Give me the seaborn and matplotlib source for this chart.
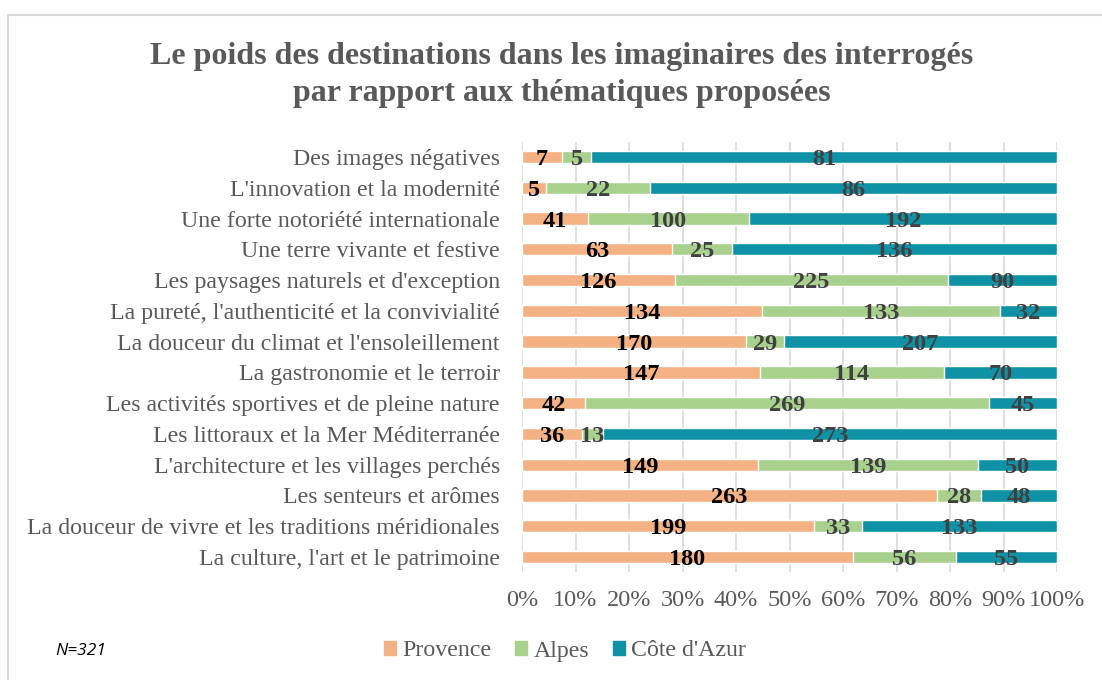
import matplotlib
matplotlib.use("Agg")
import matplotlib.pyplot as plt
import matplotlib.patches as mpatches
import seaborn as sns
import numpy as np
import pandas as pd

categories = [
    "Des images négatives",
    "L'innovation et la modernité",
    "Une forte notoriété internationale",
    "Une terre vivante et festive",
    "Les paysages naturels et d'exception",
    "La pureté, l'authenticité et la convivialité",
    "La douceur du climat et l'ensoleillement",
    "La gastronomie et le terroir",
    "Les activités sportives et de pleine nature",
    "Les littoraux et la Mer Méditerranée",
    "L'architecture et les villages perchés",
    "Les senteurs et arômes",
    "La douceur de vivre et les traditions méridionales",
    "La culture, l'art et le patrimoine",
]
provence = [7, 5, 41, 63, 126, 134, 170, 147, 42, 36, 149, 263, 199, 180]
alpes = [5, 22, 100, 25, 225, 133, 29, 114, 269, 13, 139, 28, 33, 56]
cote = [81, 86, 192, 136, 90, 32, 207, 70, 45, 273, 50, 48, 133, 55]
series_names = ["Provence", "Alpes", "Côte d'Azur"]
colors = ["#F4B183", "#A9D18E", "#1092A6"]
label_colors = ["#000000", "#404040", "#404040"]
x_ticks = [0, 10, 20, 30, 40, 50, 60, 70, 80, 90, 100]

sns.set_theme(style="white")
plt.rcParams["font.family"] = ["Liberation Serif", "DejaVu Serif"]

df = pd.DataFrame({"cat": categories, "Provence": provence, "Alpes": alpes, "Côte d'Azur": cote})
vals = df[series_names].to_numpy(dtype=float)
pct = vals / vals.sum(axis=1, keepdims=True) * 100
cum = np.cumsum(pct, axis=1)
for i, name in enumerate(series_names):
    df[name + "_cum"] = cum[:, i]

fig = plt.figure(figsize=(11.02, 6.8), dpi=100)
ax = fig.add_axes([522 / 1102, 1 - 572.4 / 680, 535 / 1102, (572.4 - 141.6) / 680])

# draw from the full stack down so each layer sits on top
for i in [2, 1, 0]:
    sns.barplot(data=df, x=series_names[i] + "_cum", y="cat", orient="h",
                color=colors[i], width=0.4, ax=ax, saturation=1, zorder=3 + (2 - i))

# value labels at the centre of each segment
for r in range(len(categories)):
    start = 0.0
    for i in range(3):
        mid = start + pct[r, i] / 2
        ax.text(mid, r, str(int(vals[r, i])), ha="center", va="center_baseline",
                fontsize=17.5, fontweight="bold", color=label_colors[i], zorder=10)
        start += pct[r, i]

ax.set_xlim(0, 100)
ax.set_xticks(x_ticks)
ax.set_xticklabels([f"{t}%" for t in x_ticks], fontsize=17.5, color="#595959")
ax.tick_params(axis="x", length=0, pad=13)
ax.tick_params(axis="y", length=0, pad=16, labelsize=17.2, labelcolor="#595959")
ax.set_xlabel("")
ax.set_ylabel("")
for s in ax.spines.values():
    s.set_visible(False)
ax.grid(axis="x", color="#D9D9D9", linewidth=1.2, zorder=0)
ax.grid(axis="y", visible=False)
ax.set_axisbelow(True)

fig.text(562 / 1102, 1 - 75 / 680,
         "Le poids des destinations dans les imaginaires des interrogés\npar rapport aux thématiques proposées",
         ha="center", va="center", fontsize=23, fontweight="bold", color="#595959", linespacing=1.32)

handles = [mpatches.Patch(color=c, label=n) for c, n in zip(colors, series_names)]
leg = fig.legend(handles=handles, loc="center", bbox_to_anchor=(565 / 1102, 1 - 651 / 680),
                 ncol=3, frameon=False, fontsize=17.2, handlelength=0.5, handleheight=0.5,
                 handletextpad=0.25, columnspacing=1.0)
for t in leg.get_texts():
    t.set_color("#595959")

fig.text(55 / 1102, 1 - 651 / 680, "N=321", ha="left", va="center", fontsize=12.5,
         style="italic", family=["Open Sans", "DejaVu Sans"], color="#000000")

border = mpatches.Rectangle((8 / 1102, -0.1), 1.2, (680 - 15) / 680 + 0.1,
                            transform=fig.transFigure, fill=False, edgecolor="#D9D9D9",
                            linewidth=1.5, zorder=0)
fig.patches.append(border)

fig.savefig("out.png", dpi=100, facecolor="white")
